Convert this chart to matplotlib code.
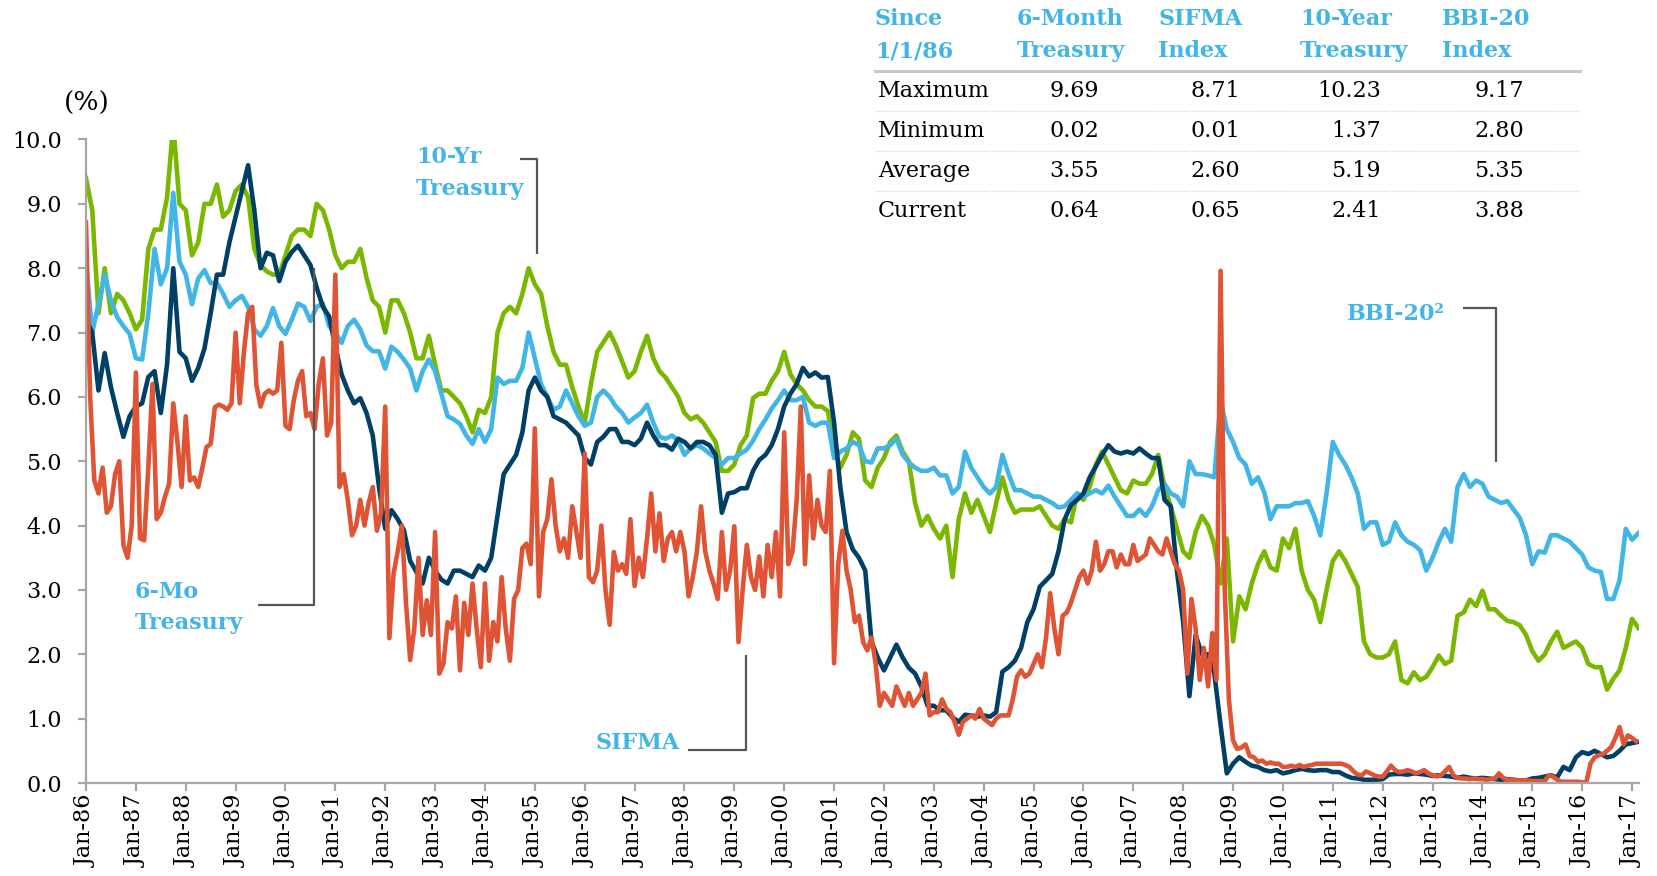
import numpy as np
import matplotlib
matplotlib.use("Agg")
import matplotlib.pyplot as plt
from matplotlib.lines import Line2D

plt.rcParams['font.family'] = ['DejaVu Serif']

# ---------------- data ----------------
start_year = 1986.0
step_main = 0.125      # years between samples for the three smoother series
step_sifma = 1.0 / 12  # monthly samples for SIFMA

ten_year = [
    9.40, 8.9, 7.3, 8.0, 7.3, 7.6, 7.5, 7.3,
    7.05, 7.2, 8.3, 8.6, 8.6, 9.1, 10.23, 9.0,
    8.9, 8.2, 8.4, 9.0, 9.0, 9.3, 8.8, 8.9,
    9.2, 9.3, 9.1, 8.3, 8.05, 7.95, 7.9, 7.9,
    8.2, 8.5, 8.6, 8.6, 8.5, 9.0, 8.9, 8.6,
    8.2, 8.0, 8.1, 8.1, 8.3, 7.85, 7.5, 7.4,
    7.0, 7.5, 7.5, 7.3, 7.0, 6.6, 6.6, 6.95,
    6.5, 6.1, 6.1, 6.0, 5.9, 5.7, 5.45, 5.8,
    5.75, 6.0, 7.0, 7.3, 7.4, 7.3, 7.6, 8.0,
    7.75, 7.6, 7.1, 6.7, 6.5, 6.5, 6.15, 5.85,
    5.6, 6.2, 6.7, 6.85, 7.0, 6.8, 6.55, 6.3,
    6.4, 6.7, 6.95, 6.6, 6.4, 6.3, 6.15, 6.0,
    5.75, 5.65, 5.7, 5.6, 5.45, 5.3, 4.85, 4.85,
    4.95, 5.25, 5.4, 5.98, 6.05, 6.05, 6.25, 6.4,
    6.7, 6.35, 6.2, 6.1, 5.95, 5.85, 5.85, 5.78,
    5.2, 4.9, 5.1, 5.45, 5.35, 4.7, 4.6, 4.9,
    5.05, 5.3, 5.4, 5.15, 5.0, 4.35, 4.0, 4.15,
    3.95, 3.8, 4.0, 3.2, 4.1, 4.5, 4.2, 4.4,
    4.15, 3.9, 4.35, 4.75, 4.4, 4.2, 4.25, 4.25,
    4.25, 4.3, 4.15, 4.0, 3.95, 4.1, 4.05, 4.5,
    4.4, 4.6, 4.95, 5.15, 4.95, 4.75, 4.55, 4.5,
    4.7, 4.65, 4.65, 4.8, 5.1, 4.6, 4.3, 3.95,
    3.6, 3.5, 3.9, 4.15, 4.0, 3.7, 3.1, 3.8,
    2.2, 2.9, 2.7, 3.1, 3.4, 3.6, 3.35, 3.3,
    3.8, 3.65, 3.95, 3.3, 3.0, 2.85, 2.5, 3.0,
    3.45, 3.6, 3.45, 3.25, 3.05, 2.2, 2.0, 1.95,
    1.95, 2.0, 2.2, 1.6, 1.55, 1.72, 1.6, 1.65,
    1.8, 1.98, 1.85, 1.9, 2.6, 2.65, 2.85, 2.75,
    2.99, 2.7, 2.7, 2.6, 2.52, 2.5, 2.45, 2.3,
    2.05, 1.9, 2.0, 2.2, 2.35, 2.1, 2.15, 2.2,
    2.1, 1.85, 1.8, 1.8, 1.45, 1.62, 1.75, 2.1,
    2.55, 2.41,
]

bbi20 = [
    8.1, 7.0, 7.44, 7.9, 7.5, 7.24, 7.1, 6.98,
    6.6, 6.58, 7.3, 8.3, 7.75, 8.0, 9.17, 8.1,
    7.9, 7.44, 7.84, 7.97, 7.77, 7.77, 7.6, 7.4,
    7.5, 7.57, 7.4, 7.05, 6.95, 7.1, 7.38, 7.1,
    6.98, 7.2, 7.45, 7.4, 7.18, 7.4, 7.45, 7.1,
    7.0, 6.84, 7.1, 7.2, 7.05, 6.8, 6.71, 6.71,
    6.44, 6.78, 6.7, 6.58, 6.44, 6.1, 6.4, 6.58,
    6.4, 6.05, 5.7, 5.65, 5.58, 5.4, 5.27, 5.5,
    5.3, 5.5, 6.3, 6.2, 6.25, 6.25, 6.45, 7.0,
    6.6, 6.2, 6.0, 5.8, 5.85, 6.1, 5.9, 5.7,
    5.55, 5.6, 6.0, 6.1, 6.0, 5.85, 5.75, 5.6,
    5.68, 5.75, 5.88, 5.6, 5.38, 5.35, 5.4, 5.32,
    5.1, 5.2, 5.25, 5.2, 5.12, 5.05, 4.95, 5.05,
    5.05, 5.12, 5.18, 5.32, 5.5, 5.65, 5.82, 5.95,
    6.1, 5.95, 5.95, 6.0, 5.6, 5.55, 5.6, 5.6,
    5.05, 5.15, 5.2, 5.3, 5.25, 5.0, 4.98, 5.2,
    5.2, 5.25, 5.35, 5.1, 4.98, 4.9, 4.85, 4.85,
    4.9, 4.78, 4.78, 4.5, 4.6, 5.15, 4.9, 4.75,
    4.6, 4.5, 4.6, 5.1, 4.8, 4.55, 4.55, 4.5,
    4.45, 4.45, 4.4, 4.35, 4.28, 4.3, 4.4, 4.5,
    4.45, 4.5, 4.55, 4.5, 4.62, 4.45, 4.3, 4.15,
    4.15, 4.25, 4.15, 4.3, 4.55, 4.65, 4.5, 4.45,
    4.3, 5.0, 4.8, 4.8, 4.78, 4.75, 5.95, 5.5,
    5.3, 5.05, 4.95, 4.65, 4.75, 4.52, 4.1, 4.3,
    4.3, 4.3, 4.35, 4.35, 4.38, 4.15, 3.85, 4.5,
    5.3, 5.1, 4.95, 4.75, 4.5, 3.95, 4.05, 4.05,
    3.7, 3.75, 4.05, 3.85, 3.75, 3.7, 3.62, 3.3,
    3.5, 3.75, 3.95, 3.75, 4.6, 4.8, 4.6, 4.7,
    4.65, 4.45, 4.4, 4.35, 4.38, 4.25, 4.12, 3.85,
    3.4, 3.6, 3.58, 3.85, 3.85, 3.8, 3.75, 3.65,
    3.55, 3.35, 3.3, 3.28, 2.86, 2.86, 3.15, 3.95,
    3.78, 3.88,
]

six_month = [
    7.2, 7.0, 6.1, 6.68, 6.15, 5.75, 5.38, 5.7,
    5.85, 5.9, 6.31, 6.4, 5.75, 6.5, 8.0, 6.7,
    6.6, 6.25, 6.45, 6.75, 7.3, 7.9, 7.9, 8.4,
    8.8, 9.2, 9.6, 8.9, 8.0, 8.24, 8.2, 7.8,
    8.1, 8.25, 8.35, 8.2, 8.05, 7.7, 7.4, 7.25,
    6.78, 6.35, 6.1, 5.9, 5.98, 5.75, 5.4, 4.6,
    3.95, 4.24, 4.1, 3.93, 3.45, 3.28, 3.1, 3.5,
    3.3, 3.16, 3.1, 3.3, 3.3, 3.25, 3.2, 3.38,
    3.3, 3.5, 4.15, 4.8, 4.95, 5.1, 5.45, 6.1,
    6.3, 6.1, 6.0, 5.7, 5.65, 5.6, 5.5, 5.4,
    5.05, 4.95, 5.3, 5.38, 5.5, 5.5, 5.3, 5.3,
    5.25, 5.35, 5.6, 5.4, 5.25, 5.25, 5.18, 5.35,
    5.3, 5.2, 5.3, 5.3, 5.25, 5.1, 4.2, 4.5,
    4.52, 4.58, 4.58, 4.85, 5.02, 5.1, 5.25, 5.5,
    5.85, 6.05, 6.2, 6.45, 6.32, 6.38, 6.3, 6.31,
    5.6, 4.6, 3.9, 3.63, 3.5, 3.3, 2.2, 1.95,
    1.75, 1.95, 2.15, 1.95, 1.79, 1.7, 1.5, 1.2,
    1.2, 1.13, 1.13, 1.02, 0.95, 1.06, 1.05, 1.03,
    1.05, 1.03, 1.1, 1.73, 1.8, 1.9, 2.1, 2.5,
    2.7, 3.05, 3.15, 3.25, 3.6, 4.1, 4.32, 4.4,
    4.5, 4.75, 4.92, 5.1, 5.25, 5.15, 5.12, 5.15,
    5.12, 5.2, 5.12, 5.05, 5.05, 4.4, 4.3, 3.3,
    2.5, 1.35, 2.3, 2.0, 2.0, 1.7, 0.9, 0.15,
    0.3, 0.4, 0.33, 0.27, 0.25, 0.2, 0.18, 0.2,
    0.15, 0.17, 0.2, 0.22, 0.2, 0.19, 0.2, 0.2,
    0.17, 0.17, 0.12, 0.08, 0.07, 0.05, 0.05, 0.05,
    0.06, 0.13, 0.14, 0.14, 0.13, 0.15, 0.14, 0.13,
    0.11, 0.12, 0.11, 0.1, 0.08, 0.1, 0.08, 0.07,
    0.08, 0.07, 0.06, 0.05, 0.06, 0.05, 0.04, 0.04,
    0.07, 0.08, 0.1, 0.12, 0.09, 0.25, 0.2, 0.4,
    0.48, 0.45, 0.5, 0.45, 0.4, 0.42, 0.5, 0.6,
    0.62, 0.64,
]

sifma = [
    8.71, 6.0, 4.7, 4.5, 4.9, 4.2, 4.3, 4.8, 5.0, 3.7, 3.5, 4.0,          # 1986
    6.38, 3.8, 3.77, 4.91, 6.2, 4.1, 4.2, 4.45, 4.65, 5.9, 5.3, 4.6,      # 1987
    5.7, 4.7, 4.75, 4.6, 4.9, 5.22, 5.27, 5.84, 5.88, 5.85, 5.8, 5.9,     # 1988
    7.0, 5.9, 6.7, 7.3, 7.4, 6.18, 5.85, 6.05, 6.1, 6.05, 6.1, 6.84,      # 1989
    5.55, 5.5, 5.95, 6.25, 6.4, 5.7, 5.75, 5.5, 6.2, 6.6, 5.4, 5.6,       # 1990
    7.9, 4.6, 4.8, 4.4, 3.85, 4.0, 4.4, 4.0, 4.35, 4.6, 3.92, 4.2,        # 1991
    5.85, 2.25, 3.25, 3.6, 4.0, 2.8, 1.91, 2.4, 3.5, 2.3, 2.84, 2.3,      # 1992
    3.9, 1.7, 1.85, 2.5, 2.4, 2.9, 1.75, 2.8, 2.3, 3.1, 2.4, 1.8,         # 1993
    3.1, 1.9, 2.5, 2.2, 3.2, 2.4, 1.9, 2.86, 3.0, 3.65, 3.72, 3.4,        # 1994
    5.51, 2.9, 3.9, 4.1, 4.72, 4.0, 3.6, 3.8, 3.5, 4.3, 3.9, 3.5,         # 1995
    5.12, 3.2, 3.12, 3.3, 4.0, 3.0, 2.46, 3.59, 3.3, 3.4, 3.25, 4.1,      # 1996
    3.06, 3.5, 3.2, 3.8, 4.5, 3.6, 4.19, 3.45, 3.8, 3.9, 3.6, 3.9,        # 1997
    3.6, 2.9, 3.2, 3.6, 4.3, 3.6, 3.3, 3.1, 2.86, 3.9, 3.0, 3.3,          # 1998
    3.99, 2.19, 3.0, 3.7, 3.2, 3.0, 3.52, 2.9, 3.7, 3.2, 3.9, 2.9,        # 1999
    5.45, 3.4, 3.6, 4.4, 5.85, 3.4, 4.78, 3.8, 4.4, 4.0, 3.9, 4.85,       # 2000
    1.86, 3.4, 3.92, 3.3, 3.0, 2.5, 2.6, 2.19, 2.06, 2.26, 1.86, 1.2,     # 2001
    1.4, 1.3, 1.2, 1.5, 1.35, 1.2, 1.4, 1.2, 1.3, 1.4, 1.7, 1.05,         # 2002
    1.1, 1.1, 1.3, 1.15, 1.1, 0.95, 0.75, 0.95, 1.0, 1.05, 1.0, 1.15,     # 2003
    1.0, 0.95, 0.9, 1.0, 1.05, 1.05, 1.05, 1.3, 1.65, 1.75, 1.65, 1.7,    # 2004
    1.85, 2.0, 1.8, 2.26, 2.95, 2.4, 2.0, 2.6, 2.65, 2.8, 3.0, 3.2,       # 2005
    3.3, 3.1, 3.3, 3.75, 3.3, 3.4, 3.6, 3.6, 3.35, 3.55, 3.4, 3.4,        # 2006
    3.7, 3.45, 3.5, 3.55, 3.8, 3.7, 3.6, 3.55, 3.8, 3.6, 3.4, 3.3,        # 2007
    3.0, 1.7, 2.86, 2.4, 1.6, 2.1, 1.5, 2.33, 1.6, 7.96, 3.0, 1.3,        # 2008
    0.66, 0.53, 0.55, 0.6, 0.42, 0.4, 0.33, 0.35, 0.3, 0.32, 0.3, 0.3,    # 2009
    0.25, 0.25, 0.27, 0.25, 0.28, 0.25, 0.27, 0.28, 0.3, 0.3, 0.3, 0.3,   # 2010
    0.3, 0.3, 0.3, 0.28, 0.25, 0.18, 0.13, 0.12, 0.18, 0.15, 0.12, 0.1,   # 2011
    0.1, 0.18, 0.27, 0.2, 0.17, 0.18, 0.2, 0.18, 0.15, 0.17, 0.2, 0.15,   # 2012
    0.12, 0.1, 0.12, 0.18, 0.25, 0.12, 0.08, 0.07, 0.07, 0.06, 0.07, 0.06,  # 2013
    0.06, 0.05, 0.06, 0.07, 0.15, 0.08, 0.05, 0.05, 0.04, 0.04, 0.04, 0.04,  # 2014
    0.03, 0.03, 0.03, 0.03, 0.12, 0.1, 0.05, 0.02, 0.02, 0.02, 0.02, 0.02,  # 2015
    0.01, 0.01, 0.3, 0.4, 0.43, 0.45, 0.5, 0.56, 0.7, 0.87, 0.6, 0.74,    # 2016
    0.7, 0.65,                                                            # 2017
]

tick_years = list(range(1986, 2018))
tick_labels = ["Jan-86", "Jan-87", "Jan-88", "Jan-89", "Jan-90", "Jan-91", "Jan-92",
               "Jan-93", "Jan-94", "Jan-95", "Jan-96", "Jan-97", "Jan-98", "Jan-99",
               "Jan-00", "Jan-01", "Jan-02", "Jan-03", "Jan-04", "Jan-05", "Jan-06",
               "Jan-07", "Jan-08", "Jan-09", "Jan-10", "Jan-11", "Jan-12", "Jan-13",
               "Jan-14", "Jan-15", "Jan-16", "Jan-17"]
y_ticks = [0, 1, 2, 3, 4, 5, 6, 7, 8, 9, 10]

table_header = [("Since", "1/1/86"), ("6-Month", "Treasury"), ("SIFMA", "Index"),
                ("10-Year", "Treasury"), ("BBI-20", "Index")]
table_rows = ["Maximum", "Minimum", "Average", "Current"]
stats_six_month = ["9.69", "0.02", "3.55", "0.64"]
stats_sifma = ["8.71", "0.01", "2.60", "0.65"]
stats_ten_year = ["10.23", "1.37", "5.19", "2.41"]
stats_bbi20 = ["9.17", "2.80", "5.35", "3.88"]

# ---------------- styling ----------------
C_GREEN = "#7AB800"
C_LBLUE = "#41B6E6"
C_NAVY = "#003F66"
C_RED = "#E05436"
C_AXIS = "#A6A6A6"
C_CONN = "#555555"

W, H = 1657, 876
fig = plt.figure(figsize=(W / 100, H / 100), dpi=100)
ax = fig.add_axes([86 / W, (H - 783) / H, (1639 - 86) / W, (783 - 139.5) / H])

t_main = start_year + step_main * np.arange(len(ten_year))
t_sifma = start_year + step_sifma * np.arange(len(sifma))

lw = 3.3
ax.plot(t_main, ten_year, color=C_GREEN, lw=lw, solid_joinstyle="round")
ax.plot(t_main, bbi20, color=C_LBLUE, lw=lw, solid_joinstyle="round")
ax.plot(t_main, six_month, color=C_NAVY, lw=lw, solid_joinstyle="round")
ax.plot(t_sifma, sifma, color=C_RED, lw=lw, solid_joinstyle="round")

ax.set_xlim(1986, 2017.14)
ax.set_ylim(0, 10)
for s in ["top", "right"]:
    ax.spines[s].set_visible(False)
for s in ["left", "bottom"]:
    ax.spines[s].set_color(C_AXIS)
    ax.spines[s].set_linewidth(1.6)

ax.set_xticks(tick_years)
ax.set_xticklabels(tick_labels, rotation=90, fontsize=16)
ax.set_yticks(y_ticks)
ax.set_yticklabels([f"{v:.1f}" for v in y_ticks], fontsize=16)
ax.tick_params(axis="both", colors=C_AXIS, labelcolor="black", length=5.5, width=1.6)
ax.tick_params(axis="y", pad=12)
ax.tick_params(axis="x", pad=3)

fig.text(87 / W, 1 - 103 / H, "(%)", ha="center", va="center", fontsize=19)

# ---------------- series labels with connectors ----------------
lab_kw = dict(color=C_LBLUE, fontsize=16, fontweight="bold", ha="left", va="center")
conn_kw = dict(color=C_CONN, lw=1.6, clip_on=False, solid_capstyle="butt")

ax.text(1992.62, 9.73, "10-Yr", **lab_kw)
ax.text(1992.62, 9.23, "Treasury", **lab_kw)
ax.plot([1994.70, 1995.04, 1995.04], [9.70, 9.70, 8.22], **conn_kw)

ax.text(1986.98, 2.97, "6-Mo", **lab_kw)
ax.text(1986.98, 2.49, "Treasury", **lab_kw)
ax.plot([1989.45, 1990.57, 1990.57], [2.76, 2.76, 8.0], **conn_kw)

ax.text(1996.21, 0.62, "SIFMA", **lab_kw)
ax.plot([1998.07, 1999.23, 1999.23], [0.51, 0.51, 1.99], **conn_kw)

ax.text(2011.29, 7.29, "BBI-20²", **lab_kw)
ax.plot([2013.61, 2014.27, 2014.27], [7.38, 7.38, 4.99], **conn_kw)

# ---------------- statistics table ----------------
def fx(x):
    return x / W


def fy(y):
    return 1 - y / H


head_x = [875, 1017, 1158, 1300, 1442]
for (l1, l2), x in zip(table_header, head_x):
    fig.text(fx(x), fy(19), l1, color=C_LBLUE, fontsize=16, fontweight="bold",
             ha="left", va="center")
    fig.text(fx(x), fy(51), l2, color=C_LBLUE, fontsize=16, fontweight="bold",
             ha="left", va="center")

fig.add_artist(Line2D([fx(875), fx(1580)], [fy(71), fy(71)], color="#C8C8C8", lw=2.2,
                      transform=fig.transFigure))

row_y = [91, 131, 171, 211]
val_x = [1099, 1240, 1381, 1524]
columns = [stats_six_month, stats_sifma, stats_ten_year, stats_bbi20]
for i, (name, y) in enumerate(zip(table_rows, row_y)):
    fig.text(fx(878), fy(y), name, fontsize=16, ha="left", va="center", color="black")
    for col, x in zip(columns, val_x):
        fig.text(fx(x), fy(y), col[i], fontsize=16, ha="right", va="center", color="black")
    if i < len(table_rows) - 1:
        fig.add_artist(Line2D([fx(875), fx(1580)], [fy(y + 20), fy(y + 20)],
                              color="#D9D9D9", lw=1.0, ls=(0, (1, 1)),
                              transform=fig.transFigure))

fig.savefig("out.png", dpi=100)
